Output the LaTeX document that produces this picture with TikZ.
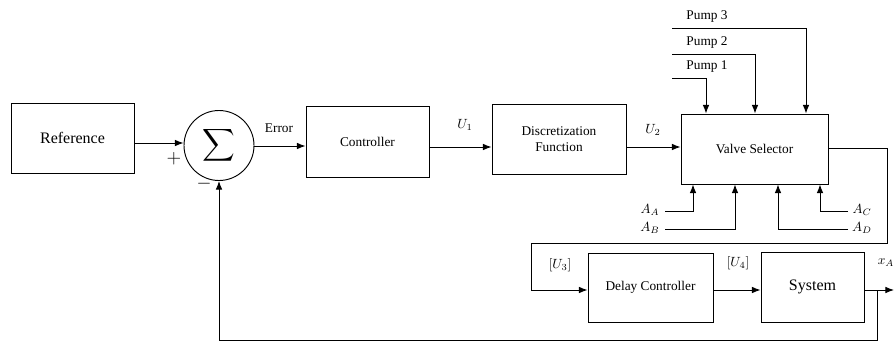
\documentclass[tikz,border=0pt]{standalone}
\usepackage{graphicx}
\usepackage{fontspec}
\setmainfont{Liberation Serif}
\usetikzlibrary{arrows.meta,calc,positioning}

\begin{document}
\begin{tikzpicture}[x=0.75pt,y=-0.75pt,line width=0.7pt,
    block/.style={draw,inner sep=0pt,align=center},
    >={Latex[length=6.5pt,width=5pt]}]
      \useasboundingbox (0,0) rectangle (894,343);
      % top row
      \node[block,minimum width=92.25pt,minimum height=52.5pt,font=\large] (ref) at (72.5,138) {Reference};
      \node[draw,circle,minimum size=52.5pt,inner sep=0pt] (sum) at (219,145.5) {\scalebox{1.7}{$\displaystyle\sum$}};
      \node[block,minimum width=92.25pt,minimum height=53.25pt] (ctrl) at (367.5,141.5) {Controller};
      \node[block,minimum width=100.5pt,minimum height=52.5pt] (disc) at (559,139) {Discretization\\Function};
      \node[block,minimum width=110.25pt,minimum height=52.5pt] (valve) at (754.5,149) {Valve Selector};
      % bottom row
      \node[block,minimum width=93.75pt,minimum height=51.75pt] (delay) at (650.5,287.5) {Delay Controller};
      \node[block,minimum width=77.25pt,minimum height=52.5pt,font=\large] (sys) at (812.5,287) {System};

      \draw[->] (ref.east |- 0,143) -- (sum.west |- 0,143);
      \draw[->] (sum.east |- 0,146) -- (ctrl.west |- 0,146);
      \draw[->] (ctrl.east |- 0,147) -- (disc.west |- 0,147);
      \draw[->] (disc.east |- 0,147) -- (valve.west |- 0,147);
      \node[font=\Large] (plus) at (174,159) {$+$};
      \node[font=\Large] (minus) at (204,184) {$-$};
      \node (err) at (279,128) {Error};
      \node (u1) at (465,125) {$U_1$};
      \node (u2) at (653,130) {$U_2$};

      % pumps
      \foreach \y/\x [count=\i] in {78/706,54/755,28/806}{
        \coordinate (pin\i) at (672,\y);
        \node (pump\i) at (707,\y-11) {Pump \i};
        \draw[->] (pin\i) -| (\x,0 |- valve.north);
      }
      % area inputs
      \foreach \n/\lx/\y/\x/\ex in {A/650/211/693/665,B/650/229/735/665,C/862/211/820/848,D/862/229/778/848}{
        \coordinate (a\n) at (\ex,\y);
        \node (la\n) at (\lx,\y-1) {$A_{\n}$};
        \draw[->] (a\n) -| (\x,0 |- valve.south);
      }

      % valve to delay controller
      \coordinate (vturn) at (887,243);
      \coordinate (dturn) at (531,290);
      \draw (valve.east |- 0,148) -| (vturn) -| (dturn);
      \draw[->] (dturn) -- (delay.west |- dturn);
      \draw[->] (delay.east |- 0,290) -- (sys.west |- 0,290);
      \node (u3) at (560,265) {$[U_3]$};
      \node (u4) at (738,263) {$[U_4]$};

      % output and feedback
      \coordinate (xout) at (877,290);
      \coordinate (xend) at (894,290);
      \coordinate (fb) at (219,340);
      \draw[->] (sys.east |- xout) -- (xend);
      \node (xa) at (886,263) {$x_A$};
      \draw[->] (xout) |- (fb) -- (sum.south);
    \end{tikzpicture}
\end{document}
